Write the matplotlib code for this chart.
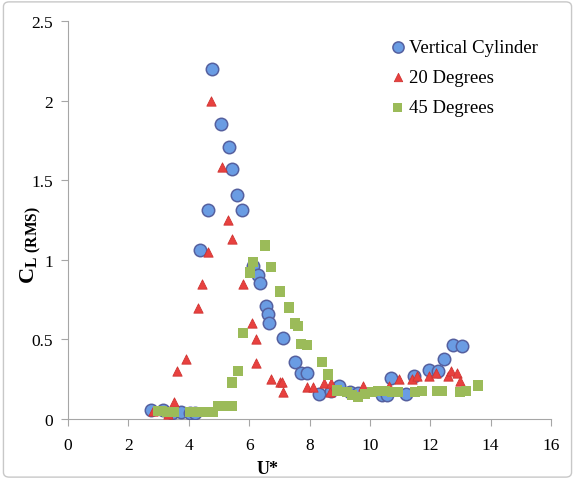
import matplotlib
matplotlib.use("Agg")
import matplotlib.pyplot as plt
from matplotlib.patches import FancyBboxPatch

plt.rcParams['font.family'] = ['Liberation Serif', 'DejaVu Serif']
plt.rcParams['mathtext.fontset'] = 'custom'
plt.rcParams['mathtext.rm'] = 'Liberation Serif'
plt.rcParams['mathtext.bf'] = 'Liberation Serif:bold'

# lift coefficient vs reduced velocity
cyl_u = [2.75, 3.15, 3.44, 3.74, 4.04, 4.2, 4.37, 4.64, 4.77, 5.07, 5.33, 5.43, 5.6, 5.76,
         6.13, 6.29, 6.36, 6.56, 6.62, 6.66, 7.12, 7.52, 7.72, 7.91, 8.31, 8.71, 8.97,
         9.34, 9.6, 10.4, 10.56, 10.7, 11.19, 11.46, 11.95, 12.25, 12.45, 12.75, 13.05]
cyl_cl = [0.057, 0.057, 0.04, 0.044, 0.04, 0.04, 1.06, 1.31, 2.20, 1.85, 1.71, 1.57, 1.41, 1.31,
          0.96, 0.905, 0.855, 0.71, 0.66, 0.60, 0.51, 0.36, 0.29, 0.29, 0.157, 0.176, 0.21,
          0.17, 0.163, 0.15, 0.15, 0.26, 0.157, 0.27, 0.31, 0.30, 0.38, 0.465, 0.46]

deg20_u = [2.8, 3.3, 3.5, 3.6, 3.9, 4.3, 4.44, 4.64, 4.73, 5.1, 5.3, 5.43, 5.79, 6.09, 6.22,
           6.22, 6.72, 7.02, 7.09, 7.12, 7.9, 8.11, 8.48, 8.68, 8.71, 9.77, 10.63, 10.96,
           11.39, 11.56, 11.95, 12.19, 12.58, 12.68, 12.88, 12.98]
deg20_cl = [0.05, 0.03, 0.107, 0.30, 0.38, 0.70, 0.85, 1.05, 2.0, 1.58, 1.25, 1.13, 0.85, 0.60, 0.50,
            0.35, 0.25, 0.23, 0.23, 0.17, 0.20, 0.20, 0.226, 0.17, 0.226, 0.21, 0.21, 0.25,
            0.25, 0.27, 0.27, 0.29, 0.27, 0.30, 0.29, 0.24]

deg45_u = [3.0, 3.1, 3.3, 3.44, 3.5, 4.04, 4.1, 4.27, 4.3, 4.5, 4.54, 4.73, 4.8, 4.97, 5.1,
           5.26, 5.33, 5.43, 5.43, 5.63, 5.79, 6.03, 6.13, 6.52, 6.72, 7.02, 7.32, 7.52, 7.62,
           7.72, 7.91, 8.41, 8.61, 8.91, 9.24, 9.4, 9.6, 9.83, 10.07, 10.26, 10.5, 10.73,
           10.93, 11.5, 11.72, 12.22, 12.38, 12.98, 13.18, 13.58]
deg45_cl = [0.05, 0.05, 0.045, 0.045, 0.045, 0.045, 0.045, 0.045, 0.045, 0.045, 0.045, 0.045, 0.045, 0.08, 0.08,
            0.08, 0.08, 0.08, 0.23, 0.30, 0.54, 0.92, 0.985, 1.09, 0.955, 0.80, 0.70, 0.60, 0.585,
            0.47, 0.465, 0.36, 0.28, 0.18, 0.17, 0.15, 0.138, 0.157, 0.17, 0.176, 0.176, 0.17,
            0.17, 0.17, 0.176, 0.176, 0.176, 0.17, 0.176, 0.21]

fig = plt.figure(figsize=(5.75, 4.81), dpi=100)
fig.patches.append(FancyBboxPatch((0.006, 0.006), 0.988, 0.988, boxstyle="round,pad=0,rounding_size=0.01",
                                  transform=fig.transFigure, fill=False, edgecolor="#c8c8c8", linewidth=1.0))
ax = fig.add_axes([0.1183, 0.1268, 0.840, 0.8275])

ax.scatter(cyl_u, cyl_cl, s=80, marker="o", facecolor="#6a9ce3", edgecolor="#55609f",
           linewidth=1.1, label="Vertical Cylinder", zorder=3)
ax.scatter(deg20_u, deg20_cl, s=45, marker="^", facecolor="#e8413f", edgecolor="#d03533",
           linewidth=0.6, label="20 Degrees", zorder=4)
ax.scatter(deg45_u, deg45_cl, s=55, marker="s", facecolor="#9bbb59", edgecolor="none",
           label="45 Degrees", zorder=5)

ax.set_xlim(0, 16)
ax.set_ylim(0, 2.5)
ax.set_xticks(range(0, 17, 2))
ax.set_yticks([0, 0.5, 1, 1.5, 2, 2.5])
ax.set_yticklabels(["0", "0.5", "1", "1.5", "2", "2.5"])

for side in ["top", "right"]:
    ax.spines[side].set_visible(False)
for side in ["left", "bottom"]:
    ax.spines[side].set_color("#a6a6a6")
ax.tick_params(axis="both", direction="out", length=5, color="#a6a6a6", labelsize=12.5)
ax.tick_params(axis="x", pad=8)
ax.tick_params(axis="y", pad=6)

ax.set_xlabel("U*", fontsize=13, fontweight="bold", labelpad=0)
ax.xaxis.set_label_coords(0.414, -0.103)
ax.set_ylabel(r"$\mathbf{C}_{\mathbf{L\ (RMS)}}$", fontsize=16, labelpad=4)
ax.yaxis.set_label_coords(-0.05, 0.44)

ax.legend(loc="upper right", bbox_to_anchor=(1.0, 0.987), frameon=False, fontsize=13.5,
          handletextpad=0.0, labelspacing=0.68, borderaxespad=0.3, handlelength=1.2,
          scatterpoints=1, markerscale=0.9)

fig.savefig("out.png", dpi=100)
